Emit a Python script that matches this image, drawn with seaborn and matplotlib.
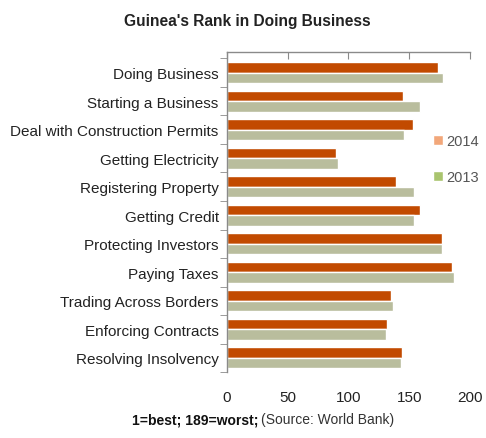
import pandas as pd
import matplotlib.pyplot as plt
import seaborn as sns
from matplotlib.patches import Patch
from matplotlib.ticker import FixedLocator

# Guinea's rank in Doing Business, 2014 vs 2013
categories = ['Doing Business', 'Starting a Business', 'Deal with Construction Permits',
              'Getting Electricity', 'Registering Property', 'Getting Credit',
              'Protecting Investors', 'Paying Taxes', 'Trading Across Borders',
              'Enforcing Contracts', 'Resolving Insolvency']
rank_2014 = [174, 145, 153, 90, 139, 159, 177, 185, 135, 132, 144]
rank_2013 = [178, 159, 146, 91, 154, 154, 177, 187, 137, 131, 143]
years = ['2014', '2013']

df = pd.DataFrame({
    'Category': categories * 2,
    'Rank': rank_2014 + rank_2013,
    'Year': [years[0]] * len(categories) + [years[1]] * len(categories),
})

sns.set_style('white')
plt.rcParams['font.family'] = ['Liberation Sans', 'DejaVu Sans']

fig = plt.figure(figsize=(4.86, 4.39), dpi=100)
ax = fig.add_axes([0.467, 0.150, 0.500, 0.729])

sns.barplot(data=df, y='Category', x='Rank', hue='Year', orient='h',
            palette={'2014': '#C24A00', '2013': '#B9BD9D'}, width=0.74,
            saturation=1, legend=False, ax=ax)

ax.set_xlim(0, 200)
ax.set_ylim(len(categories) - 0.5, -0.72)
ax.set_xlabel('')
ax.set_ylabel('')

# spines: top and left only
for side in ['right', 'bottom']:
    ax.spines[side].set_visible(False)
for side in ['top', 'left']:
    ax.spines[side].set_color('#8a8a8a')
    ax.spines[side].set_linewidth(1.0)

ax.set_xticks([0, 50, 100, 150, 200])
ax.tick_params(axis='x', top=True, bottom=False, labeltop=False, labelbottom=True,
               direction='in', length=5, color='#8a8a8a', pad=13, labelsize=11,
               labelcolor='#222222')
ax.yaxis.set_minor_locator(FixedLocator([i - 0.5 for i in range(len(categories) + 1)]))
ax.tick_params(axis='y', which='major', length=0, pad=6, labelsize=11, labelcolor='#222222')
ax.tick_params(axis='y', which='minor', left=True, length=5, color='#8a8a8a', direction='out')

# legend out to the right
handles = [Patch(facecolor='#F2A77A', label='2014'), Patch(facecolor='#A9C46E', label='2013')]
fig.legend(handles=handles, loc='upper left', bbox_to_anchor=(0.89, 0.692), frameon=False,
           handlelength=0.7, handleheight=0.7, handletextpad=0.25, labelspacing=1.5,
           fontsize=10.5, labelcolor='#555555', borderaxespad=0, borderpad=0)

fig.text(0.508, 0.952, "Guinea's Rank in Doing Business", ha='center', va='center',
         fontsize=11.2, fontweight='bold', color='#222222')
fig.text(0.272, 0.043, '1=best; 189=worst;', ha='left', va='center',
         fontsize=10, fontweight='bold', color='#111111')
fig.text(0.538, 0.043, '(Source: World Bank)', ha='left', va='center',
         fontsize=10, color='#333333')

fig.savefig('out.png', dpi=100)
